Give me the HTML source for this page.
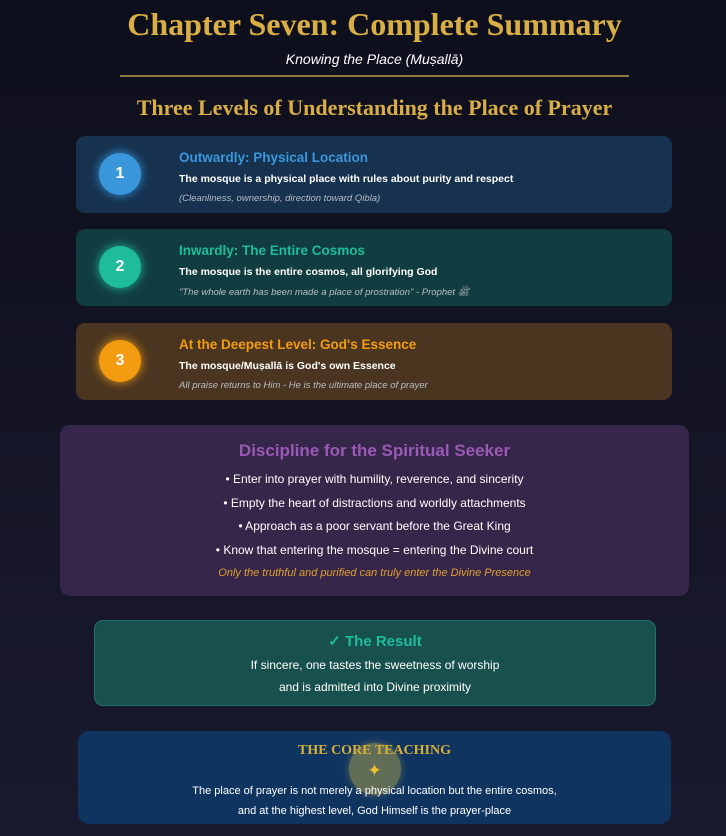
<!DOCTYPE html>
<html><head><meta charset="utf-8"><style>
*{margin:0;padding:0;box-sizing:border-box}
body{width:726px;height:836px;overflow:hidden;background:linear-gradient(180deg,#0e0f1c,#1a1a2e);font-family:"Liberation Sans",sans-serif;position:relative;color:#fff}
.a{position:absolute}
.c{text-align:center;left:0;width:749px}
.box{position:absolute;left:76px;width:596px;height:77px;border-radius:9px}
.circ{position:absolute;left:23px;top:17px;width:42px;height:42px;border-radius:50%;font-weight:bold;font-size:16px;line-height:42px;text-align:center;color:#fff}
.t{position:absolute;left:103px;top:14px;font-weight:bold;font-size:13.5px}
.d{position:absolute;left:103px;top:37px;font-size:10.5px;font-weight:bold;color:#fff}
.i{position:absolute;left:103px;top:57px;font-size:9.5px;font-style:italic;color:#b8bcc6}
</style></head><body>
<div class="a c" style="top:6px;font-family:'Liberation Serif',serif;font-weight:bold;font-size:32px;color:#d9ae45">Chapter Seven: Complete Summary</div>
<div class="a c" style="top:51px;font-style:italic;font-size:14px">Knowing the Place (Muṣallā)</div>
<div class="a" style="left:120px;top:75px;width:509px;height:2px;background:#8c7a3e"></div>
<div class="a c" style="top:95px;font-family:'Liberation Serif',serif;font-weight:bold;font-size:22px;color:#d9ae45">Three Levels of Understanding the Place of Prayer</div>

<div class="box" style="top:136px;background:#16324f">
<div class="circ" style="background:#3a97dc;box-shadow:0 0 10px #3a97dc">1</div>
<div class="t" style="color:#3a97dc">Outwardly: Physical Location</div>
<div class="d">The mosque is a physical place with rules about purity and respect</div>
<div class="i">(Cleanliness, ownership, direction toward Qibla)</div></div>

<div class="box" style="top:229px;background:#123d40">
<div class="circ" style="background:#1fbc9c;box-shadow:0 0 10px #1fbc9c">2</div>
<div class="t" style="color:#1fbc9c">Inwardly: The Entire Cosmos</div>
<div class="d">The mosque is the entire cosmos, all glorifying God</div>
<div class="i">"The whole earth has been made a place of prostration" - Prophet ﷺ</div></div>

<div class="box" style="top:323px;background:#4a3520">
<div class="circ" style="background:#f39c12;box-shadow:0 0 10px #f39c12">3</div>
<div class="t" style="color:#f39c12">At the Deepest Level: God's Essence</div>
<div class="d">The mosque/Muṣallā is God's own Essence</div>
<div class="i">All praise returns to Him - He is the ultimate place of prayer</div></div>

<div class="a" style="left:60px;top:425px;width:629px;height:171px;border-radius:10px;background:#35264a;text-align:center">
<div style="margin-top:16px;font-weight:bold;font-size:17px;color:#9b59b6">Discipline for the Spiritual Seeker</div>
<div style="font-size:12px;line-height:23.5px;margin-top:7px">• Enter into prayer with humility, reverence, and sincerity<br>• Empty the heart of distractions and worldly attachments<br>• Approach as a poor servant before the Great King<br>• Know that entering the mosque = entering the Divine court</div>
<div style="font-size:11px;font-style:italic;color:#e0a030;margin-top:5px">Only the truthful and purified can truly enter the Divine Presence</div></div>

<div class="a" style="left:94px;top:620px;width:562px;height:86px;border-radius:9px;background:#17504c;border:1px solid #23706a;text-align:center">
<div style="margin-top:11px;font-weight:bold;font-size:15px;color:#1fbc9c">✓ The Result</div>
<div style="font-size:12px;line-height:22px;margin-top:4px">If sincere, one tastes the sweetness of worship<br>and is admitted into Divine proximity</div></div>

<div class="a" style="left:78px;top:731px;width:593px;height:93px;border-radius:11px;background:#0f3460;text-align:center">
<div class="a" style="left:271px;top:12px;width:52px;height:52px;border-radius:50%;background:rgba(200,180,80,0.45);box-shadow:0 0 8px rgba(200,180,80,.4)"></div>
<div style="position:relative;margin-top:12px;font-family:'Liberation Serif',serif;font-weight:bold;font-size:14px;color:#d4af37">THE CORE TEACHING</div>
<div style="position:relative;font-size:17px;color:#f0c030;line-height:20px;margin-top:2px">✦</div>
<div style="position:relative;font-size:11px;line-height:20px;margin-top:0px">The place of prayer is not merely a physical location but the entire cosmos,<br>and at the highest level, God Himself is the prayer-place</div></div>
</body></html>
